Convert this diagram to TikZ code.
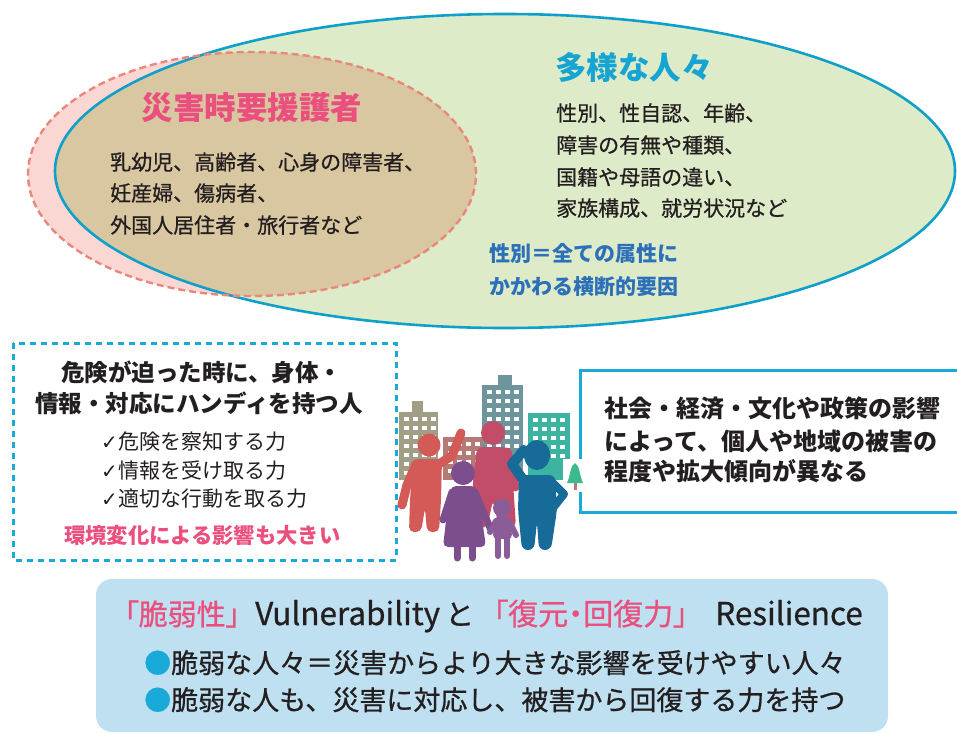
\documentclass[tikz,border=0pt]{standalone}
\usepackage{fontspec}
\setmainfont{Noto Sans CJK JP}
\newfontfamily\jp{Noto Sans CJK JP}
\newfontfamily\jpm{Noto Sans CJK JP}[FakeBold=0.7]
\newfontfamily\jpp{Noto Sans CJK JP}[RawFeature=+palt,FakeBold=0.7]
\newfontfamily\symf{DejaVu Sans}
\newcommand\fsz[1]{\fontsize{#1}{#1}\selectfont}

\definecolor{ovgreen}{HTML}{DEEBC8}
\definecolor{ovblue}{HTML}{0EA0CA}
\definecolor{ovpink}{HTML}{FAD7D2}
\definecolor{ovtan}{HTML}{D9C7A1}
\definecolor{dashpink}{HTML}{E8877C}
\definecolor{hpink}{HTML}{EA4F7D}
\definecolor{hcyan}{HTML}{16A4D3}
\definecolor{hblue}{HTML}{2C70BA}
\definecolor{boxcyan}{HTML}{1AAAD9}
\definecolor{panel}{HTML}{BFE0F0}
\definecolor{ink}{HTML}{231F20}
\definecolor{bld1}{HTML}{A09F86}
\definecolor{bld2}{HTML}{B57A75}
\definecolor{bld3}{HTML}{6E949C}
\definecolor{bld4}{HTML}{3DB4A2}
\definecolor{tree}{HTML}{3CB98E}
\definecolor{pred}{HTML}{D35A56}
\definecolor{prasp}{HTML}{C14D69}
\definecolor{ppurp}{HTML}{7C4E8E}
\definecolor{pchild}{HTML}{8A5C98}
\definecolor{pblue}{HTML}{176B98}

\tikzset{
  lbl/.style={inner sep=0pt, anchor=base west, text=ink},
  body/.style={lbl, font=\jpm\fsz{21}},
  limb/.style={line width=#1, line cap=round, line join=round},
  win/.style={fill=white}
}

\begin{document}
\begin{tikzpicture}[x=1pt,y=-1pt]
\useasboundingbox (0,0) rectangle (957,733);

% ---- overlapping ellipses ----
\fill[ovgreen] (505,171) ellipse [x radius=450pt, y radius=157pt];
\fill[ovpink] (252,174) ellipse [x radius=224pt, y radius=122pt];
\begin{scope}
  \clip (505,171) ellipse [x radius=450pt, y radius=157pt];
  \fill[ovtan] (252,174) ellipse [x radius=224pt, y radius=122pt];
\end{scope}
\draw[ovblue, line width=2.6pt] (505,171) ellipse [x radius=450pt, y radius=157pt];
\draw[dashpink, line width=2.4pt, dash pattern=on 7pt off 4pt] (252,174) ellipse [x radius=224pt, y radius=122pt];

\node[lbl, anchor=base, text=hpink, font=\jp\bfseries\fsz{31.5}] (needs) at (252,120) {災害時要援護者};
\node[body] (n1) at (110,170) {乳幼児、高齢者、心身の障害者、};
\node[body] (n2) at (110,201) {妊産婦、傷病者、};
\node[body] (n3) at (110,233) {外国人居住者・旅行者など};

\node[lbl, text=hcyan, font=\jp\bfseries\fsz{31.5}] (diverse) at (555,79.5) {多様な人々};
\node[body] (d1) at (556,121) {性別、性自認、年齢、};
\node[body] (d2) at (556,153) {障害の有無や種類、};
\node[body] (d3) at (556,185) {国籍や母語の違い、};
\node[body] (d4) at (556,216) {家族構成、就労状況など};
\node[lbl, text=hblue, font=\jp\bfseries\fsz{21}] (g1) at (489,261) {性別＝全ての属性に};
\node[lbl, text=hblue, font=\jp\bfseries\fsz{21}] (g2) at (489,294) {かかわる横断的要因};

% ---- dashed box on the left ----
\draw[boxcyan, line width=3pt, dash pattern=on 6pt off 5pt] (13,343) rectangle (396,560);
\node[lbl, font=\jp\bfseries\fsz{23.5}] (h1) at (61,381) {危険が迫った時に、身体・};
\node[lbl, font=\jp\bfseries\fsz{23.5}] (h2) at (35,412) {情報・対応にハンディを持つ人};
\node[lbl, font=\symf\fsz{20}] (c1m) at (101,449) {✓};
\node[lbl, font=\jp\fsz{21}] (c1) at (118,449) {危険を察知する力};
\node[lbl, font=\symf\fsz{20}] (c2m) at (101,478) {✓};
\node[lbl, font=\jp\fsz{21}] (c2) at (118,478) {情報を受け取る力};
\node[lbl, font=\symf\fsz{20}] (c3m) at (101,506) {✓};
\node[lbl, font=\jp\fsz{21}] (c3) at (118,506) {適切な行動を取る力};
\node[lbl, text=hpink, font=\jp\bfseries\fsz{21.3}] (env) at (64,543) {環境変化による影響も大きい};

% ---- right box ----
\fill[white] (580,370) rectangle (962,512);
\draw[boxcyan, line width=3pt] (962,370) -- (580,370) -- (580,512) -- (962,512);
\node[lbl, font=\jp\bfseries\fsz{24}] (s1) at (604,417) {社会・経済・文化や政策の影響};
\node[lbl, font=\jp\bfseries\fsz{24}] (s2) at (604,450) {によって、個人や地域の被害の};
\node[lbl, font=\jp\bfseries\fsz{24}] (s3) at (604,480) {程度や拡大傾向が異なる};

% ---- town and people ----
% buildings
\fill[bld1] (412,401) rectangle (423,413);
\fill[bld1] (399,412) rectangle (438,480);
\foreach \cx in {404,413,422,431}
  \foreach \cy in {417,426,435,444,453,462,471}
    \fill[win] (\cx,\cy) rectangle ++(5,4);
\fill[bld2] (443,437) rectangle (483,480);
\foreach \cx in {448,457,466,475}
  \foreach \cy in {442,451,460,469}
    \fill[win] (\cx,\cy) rectangle ++(5,4);
\fill[bld3] (498,375) rectangle (512,386);
\fill[bld3] (482,385) rectangle (523,475);
\foreach \cx in {487,496,505,514}
  \foreach \cy in {390,399,408,417,426,435,444,453}
    \fill[win] (\cx,\cy) rectangle ++(5,4);
\fill[bld4] (528,413) rectangle (570,480);
\foreach \cx in {533,542,551,560}
  \foreach \cy in {418,427,436,445,454}
    \fill[win] (\cx,\cy) rectangle ++(5,4);
% small tree
\fill[white] (563,459) rectangle (587,492);
\fill[tree] (575,463) .. controls (570,466) and (571,474) .. (567,483) -- (583,483) .. controls (579,474) and (580,466) .. (575,463) -- cycle;
\fill[bld2] (574,483) rectangle (576.5,490);

% raspberry figure
\fill[prasp] (493,433) circle (12pt);
\fill[prasp, rounded corners=6pt] (477,447) -- (508,447) -- (513,482) -- (516,527) -- (499,528) -- (493,500) -- (487,528) -- (470,527) -- (473,482) -- cycle;
\draw[prasp, limb=9pt] (507,452) -- (515,487);
% red figure
\fill[pred] (429,445) circle (11.5pt);
\fill[pred, rounded corners=5pt] (413,459) -- (442,459) -- (441,500) -- (439,532) -- (427,532) -- (425,508) -- (421,532) -- (409,532) -- (410,500) -- cycle;
\draw[pred, limb=9pt] (416,464) -- (407,485) -- (402,505);
\draw[pred, limb=9pt] (437,465) -- (452,456) -- (461,433);
% blue figure
\fill[pblue] (537,455) ellipse [x radius=13pt, y radius=15pt];
\fill[pblue, rounded corners=6pt] (519,475) -- (555,475) -- (557,510) -- (551,550) -- (539,550) -- (537,522) -- (534,550) -- (522,550) -- (518,510) -- cycle;
\draw[pblue, limb=10pt] (524,481) -- (512,464) -- (524,450);
\draw[pblue, limb=8pt] (551,481) -- (564,494) -- (553,508);
% purple figure
\fill[ppurp] (463,473) circle (12pt);
\fill[ppurp, rounded corners=5pt] (451,486) -- (476,486) -- (481,512) -- (486,547) -- (443,547) -- (447,512) -- cycle;
\draw[ppurp, limb=7pt] (452,492) -- (443,520);
\draw[ppurp, limb=7pt] (475,492) -- (491,530);
\draw[ppurp, limb=7pt] (457,545) -- (457,558);
\draw[ppurp, limb=7pt] (472,545) -- (472,558);
% child
\fill[pchild] (502,508) circle (9pt);
\fill[pchild, rounded corners=4pt] (494,517) -- (511,517) -- (512,539) -- (493,539) -- cycle;
\draw[pchild, limb=6pt] (496,521) -- (490,532);
\draw[pchild, limb=6pt] (509,521) -- (516,535);
\draw[pchild, limb=6pt] (498,536) -- (498,556);
\draw[pchild, limb=6pt] (507,536) -- (507,556);

% ---- bottom panel ----
\fill[panel, rounded corners=16pt] (96,579) rectangle (888,732);
\node[lbl, text=hpink, font=\jpp\fsz{29}] (vul) at (124,625) {「脆弱性」};
\node[lbl, font=\jpm\fsz{31.5}] (vulen) at (255,625) {Vulnerability};
\node[lbl, font=\jpm\fsz{29}] (and) at (445,625) {と};
\node[lbl, text=hpink, font=\jpp\fsz{30}] (res) at (493,625) {「復元・回復力」};
\node[lbl, font=\jpm\fsz{31.5}] (resen) at (715,625) {Resilience};
\node[lbl, font=\jpm\fsz{27}] (b1) at (144,673) {\textcolor{boxcyan}{●}脆弱な人々＝災害からより大きな影響を受けやすい人々};
\node[lbl, font=\jpm\fsz{27}] (b2) at (144,710) {\textcolor{boxcyan}{●}脆弱な人も、災害に対応し、被害から回復する力を持つ};
\end{tikzpicture}
\end{document}
